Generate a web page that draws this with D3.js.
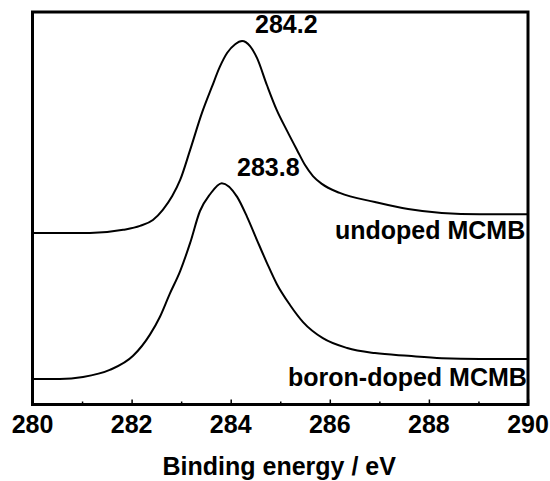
<!DOCTYPE html>
<html>
<head>
<meta charset="utf-8">
<script src="https://cdn.jsdelivr.net/npm/d3@7/dist/d3.min.js"></script>
<style>
  html, body { margin: 0; padding: 0; background: #fff; }
  svg { display: block; }
  text { font-family: "Liberation Sans", Arial, Helvetica, sans-serif; font-weight: bold; fill: #000; }
</style>
</head>
<body>
<script>
// ---- data (binding energy in eV, intensity in arbitrary units) ----
const undopedEnergy = [280.00, 281.16, 281.83, 282.17, 282.43, 282.63, 282.82, 282.98, 283.18, 283.42, 283.62, 283.78, 283.93, 284.09, 284.23, 284.39, 284.53, 284.73, 284.93, 285.13, 285.34, 285.50, 285.66, 285.84, 286.20, 286.91, 287.58, 288.26, 289.03, 290.00];
const undopedIntensity = [43.7, 43.7, 44.5, 45.5, 47.0, 49.6, 53.1, 57.2, 64.8, 74.3, 80.9, 86.0, 89.6, 91.8, 92.6, 91.3, 88.3, 81.4, 75.0, 69.9, 64.8, 61.0, 58.2, 56.2, 53.9, 51.6, 49.8, 48.8, 48.5, 48.5];

const boronEnergy = [280.00, 280.55, 281.02, 281.56, 282.03, 282.37, 282.57, 282.77, 282.98, 283.18, 283.38, 283.58, 283.82, 284.13, 284.33, 284.53, 284.73, 284.93, 285.20, 285.46, 285.86, 286.35, 286.91, 287.58, 288.26, 289.03, 290.00];
const boronIntensity = [6.5, 6.5, 7.0, 8.8, 12.4, 17.8, 22.3, 28.2, 34.0, 41.1, 49.3, 53.5, 56.4, 52.9, 47.8, 41.9, 36.1, 30.7, 25.3, 21.0, 16.9, 14.4, 13.1, 12.4, 11.8, 11.6, 11.6];

const seriesNames = ["undoped MCMB", "boron-doped MCMB"];
const peakLabels = ["284.2", "283.8"];
const majorTicks = [280, 282, 284, 286, 288, 290];
const minorTicks = [281, 283, 285, 287, 289];
const xTitle = "Binding energy / eV";

// ---- layout ----
const W = 550, H = 481;
const mLeft = 32.5, mRight = 528, mTop = 12, mBottom = 404.5;

const svg = d3.select("body").append("svg").attr("width", W).attr("height", H);

const x = d3.scaleLinear().domain([280, 290]).range([mLeft, mRight]);
const y = d3.scaleLinear().domain([0, 100]).range([mBottom, mTop]);

const line = d3.line()
  .x(d => x(d[0]))
  .y(d => y(d[1]))
  .curve(d3.curveMonotoneX);

const undoped = d3.zip(undopedEnergy, undopedIntensity);
const boron = d3.zip(boronEnergy, boronIntensity);

svg.append("path").datum(undoped).attr("d", line)
  .attr("fill", "none").attr("stroke", "#000").attr("stroke-width", 2)
  .attr("stroke-linejoin", "round");
svg.append("path").datum(boron).attr("d", line)
  .attr("fill", "none").attr("stroke", "#000").attr("stroke-width", 2)
  .attr("stroke-linejoin", "round");

// ---- axis ticks (inside) ----
const axisG = svg.append("g").attr("transform", `translate(0,${mBottom})`);
axisG.call(d3.axisBottom(x).tickValues(majorTicks).tickSize(-5).tickFormat(""));
axisG.select(".domain").remove();
axisG.selectAll(".tick line").attr("stroke", "#000").attr("stroke-width", 1.5);

const minorG = svg.append("g").attr("transform", `translate(0,${mBottom})`);
minorG.call(d3.axisBottom(x).tickValues(minorTicks).tickSize(-3).tickFormat(""));
minorG.select(".domain").remove();
minorG.selectAll(".tick line").attr("stroke", "#000").attr("stroke-width", 1.5);

// tick labels
svg.append("g").selectAll("text").data(majorTicks).join("text")
  .attr("x", d => x(d))
  .attr("y", 433)
  .attr("text-anchor", "middle")
  .attr("font-size", 25)
  .text(d => d);

// ---- frame ----
svg.append("rect")
  .attr("x", mLeft).attr("y", mTop)
  .attr("width", mRight - mLeft).attr("height", mBottom - mTop)
  .attr("fill", "none").attr("stroke", "#000").attr("stroke-width", 3);

// ---- annotations ----
svg.append("text").attr("x", 255).attr("y", 33).attr("font-size", 25).text(peakLabels[0]);
svg.append("text").attr("x", 237).attr("y", 176).attr("font-size", 25).text(peakLabels[1]);

svg.append("text").attr("x", 335).attr("y", 239).attr("font-size", 25).text(seriesNames[0]);
svg.append("text").attr("x", 288).attr("y", 386).attr("font-size", 25).text(seriesNames[1]);

svg.append("text")
  .attr("x", (mLeft + mRight) / 2 - 1)
  .attr("y", 475)
  .attr("text-anchor", "middle")
  .attr("font-size", 25)
  .text(xTitle);
</script>
</body>
</html>
